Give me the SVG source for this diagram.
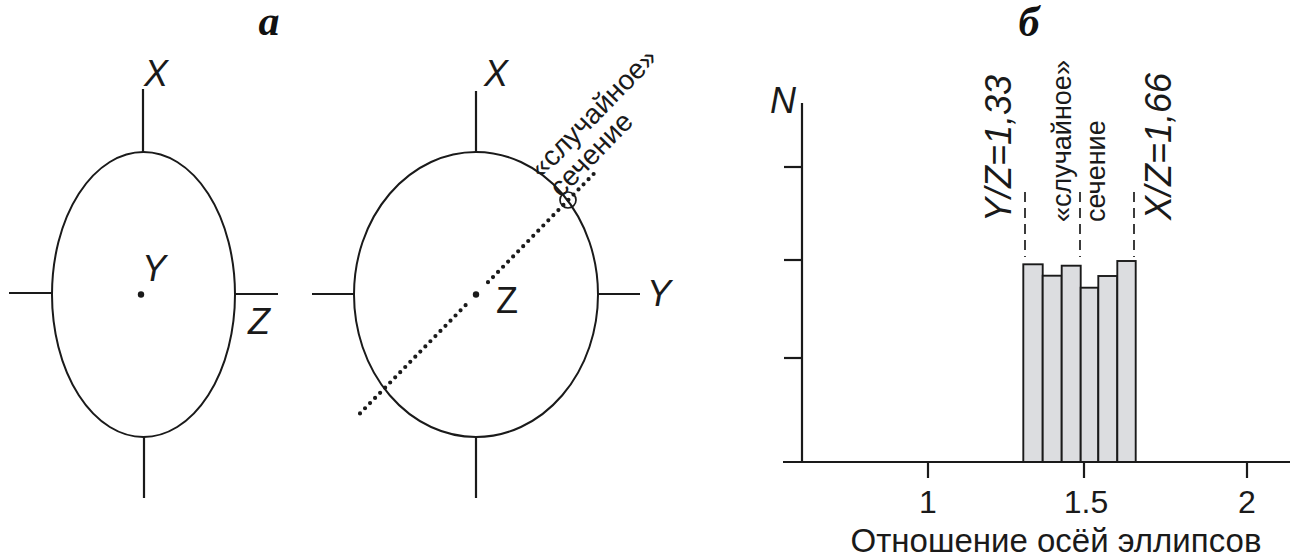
<svg xmlns="http://www.w3.org/2000/svg" width="1296" height="559" viewBox="0 0 1296 559">
<style>
.ln{stroke:#1a1a1a;stroke-width:2.2;fill:none}
.el{stroke:#1a1a1a;stroke-width:2;fill:none}
.t{font-family:"Liberation Sans",Arial,sans-serif;fill:#1a1a1a}
.ax{font-size:36px;font-style:italic}
.hd{font-family:"Liberation Serif","Times New Roman",serif;font-weight:bold;font-style:italic;font-size:42px;fill:#111}
.dot{stroke:#1a1a1a;stroke-width:4.2;stroke-linecap:round;stroke-dasharray:0 7.2;fill:none}
.bar{fill:#dcdde0;stroke:#1a1a1a;stroke-width:1.9}
.dash{stroke:#1a1a1a;stroke-width:1.7;stroke-dasharray:10 6;fill:none}
</style>
<rect width="1296" height="559" fill="#fff"/>
<text class="hd" x="269" y="35" text-anchor="middle">а</text>
<text class="hd" x="1029" y="36" text-anchor="middle">б</text>

<g id="ellipse-left">
<ellipse class="el" cx="143.5" cy="294.5" rx="91.5" ry="142.5"/>
<circle cx="141" cy="294.5" r="3.2" fill="#1a1a1a"/>
</g>
<g id="axes-left">
<line class="ln" x1="143" y1="89" x2="143" y2="152"/>
<line class="ln" x1="144" y1="437" x2="144" y2="498"/>
<line class="ln" x1="9" y1="293" x2="52" y2="293"/>
<line class="ln" x1="235" y1="294" x2="278" y2="294"/>
<text class="t ax" x="144" y="86">X</text>
<text class="t ax" x="142" y="281">Y</text>
<text class="t ax" x="248" y="334">Z</text>
</g>

<g id="ellipse-right">
<ellipse class="el" cx="476" cy="294.5" rx="122" ry="142.5"/>
<circle cx="476" cy="294.5" r="3.2" fill="#1a1a1a"/>
<circle cx="568" cy="200" r="8" fill="none" stroke="#1a1a1a" stroke-width="1.7"/>
</g>
<g id="axes-right">
<line class="ln" x1="476" y1="91" x2="476" y2="152"/>
<line class="ln" x1="476" y1="437" x2="476" y2="498"/>
<line class="ln" x1="312" y1="294" x2="354" y2="294"/>
<line class="ln" x1="598" y1="294" x2="640" y2="294"/>
<text class="t ax" x="484" y="86">X</text>
<text class="t ax" x="647" y="306">Y</text>
<text class="t" font-size="36" x="496" y="313">Z</text>
</g>
<g id="section-line">
<line class="dot" x1="360" y1="413.4" x2="468" y2="302.7"/>
<line class="dot" x1="488" y1="282.2" x2="597" y2="170.5"/>
<text class="t" font-size="28" transform="translate(541.5,179.5) rotate(-45.7)">«случайное»</text>
<text class="t" font-size="28" transform="translate(561,198.5) rotate(-45.7)">сечение</text>
</g>

<g id="histogram">
<g id="bars">
<rect class="bar" x="1023.3" y="264.3" width="19.4" height="197.7"/>
<rect class="bar" x="1042.7" y="275.7" width="19" height="186.3"/>
<rect class="bar" x="1061.7" y="265.7" width="19" height="196.3"/>
<rect class="bar" x="1080.7" y="287.7" width="17.6" height="174.3"/>
<rect class="bar" x="1098.3" y="276" width="19" height="186"/>
<rect class="bar" x="1117.3" y="261" width="18.4" height="201"/>
</g>
<g id="chart-axes">
<line class="ln" x1="802" y1="103" x2="802" y2="462"/>
<line class="ln" x1="783" y1="462" x2="1290" y2="462"/>
<line class="ln" x1="784" y1="167" x2="802" y2="167"/>
<line class="ln" x1="784" y1="260" x2="802" y2="260"/>
<line class="ln" x1="784" y1="358" x2="802" y2="358"/>
<line class="ln" x1="928" y1="462" x2="928" y2="478"/>
<line class="ln" x1="1084" y1="462" x2="1084" y2="478"/>
<line class="ln" x1="1247" y1="462" x2="1247" y2="478"/>
<text class="t ax" x="770" y="113" font-size="32">N</text>
<text class="t" font-size="32" x="928" y="513" text-anchor="middle">1</text>
<text class="t" font-size="32" x="1086" y="513" text-anchor="middle">1.5</text>
<text class="t" font-size="32" x="1247" y="513" text-anchor="middle">2</text>
<text class="t" font-size="33" x="1056" y="552" text-anchor="middle">Отношение осёй эллипсов</text>
</g>
<g id="markers">
<line class="dash" x1="1025" y1="192" x2="1025" y2="257"/>
<line class="dash" x1="1080" y1="192" x2="1080" y2="257"/>
<line class="dash" x1="1134" y1="192" x2="1134" y2="257"/>
<text class="t ax" font-size="34" transform="translate(1011,222) rotate(-90)">Y/Z=1,33</text>
<text class="t ax" font-size="34" transform="translate(1171,220) rotate(-90)">X/Z=1,66</text>
<text class="t" font-size="27" transform="translate(1071,222) rotate(-90)">«случайное»</text>
<text class="t" font-size="27" transform="translate(1105,222) rotate(-90)">сечение</text>
</g>
</g>
</svg>
